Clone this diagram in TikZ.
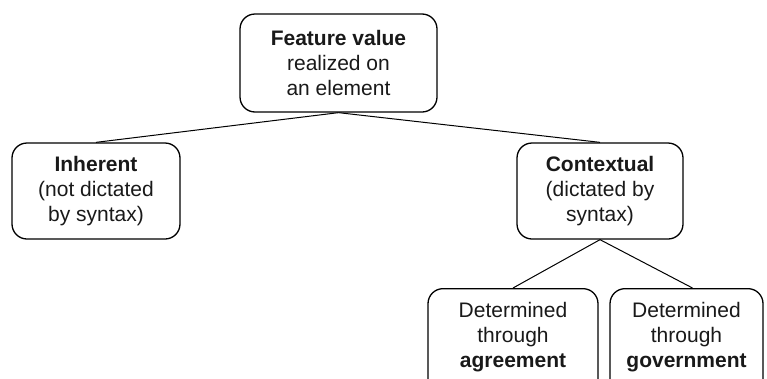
\documentclass[tikz,border=0pt]{standalone}
\usepackage{fontspec}
\setmainfont{Liberation Sans}
\begin{document}
\begin{tikzpicture}[x=1pt,y=-1pt,
  box/.style={draw=black, line width=1.3pt, rounded corners=15pt, align=center,
    font=\fontsize{21}{25}\selectfont, inner sep=0pt, text=black!90},
  link/.style={draw=black, line width=1pt}]
\clip (0,0) rectangle (767,378);
\node[box, minimum width=197pt, minimum height=98pt] (top) at (338.5,63)
  {\textbf{Feature value}\\realized on\\an element};
\node[box, minimum width=168pt, minimum height=96pt] (inh) at (96,191)
  {\textbf{Inherent}\\(not dictated\\by syntax)};
\node[box, minimum width=166pt, minimum height=96pt] (ctx) at (600,191)
  {\textbf{Contextual}\\(dictated by\\syntax)};
\node[box, minimum width=170pt, anchor=north, inner ysep=14pt] (agr) at (513,288)
  {Determined\\through\\\textbf{agreement}\\~\\~};
\node[box, minimum width=153pt, anchor=north, inner ysep=14pt] (gov) at (686.5,288)
  {Determined\\through\\\textbf{government}\\~\\~};
\draw[link] (top.south) -- (inh.north);
\draw[link] (top.south) -- (ctx.north);
\draw[link] (ctx.south) -- (agr.north);
\draw[link] (ctx.south) -- ([xshift=6pt]gov.north);
\end{tikzpicture}
\end{document}
